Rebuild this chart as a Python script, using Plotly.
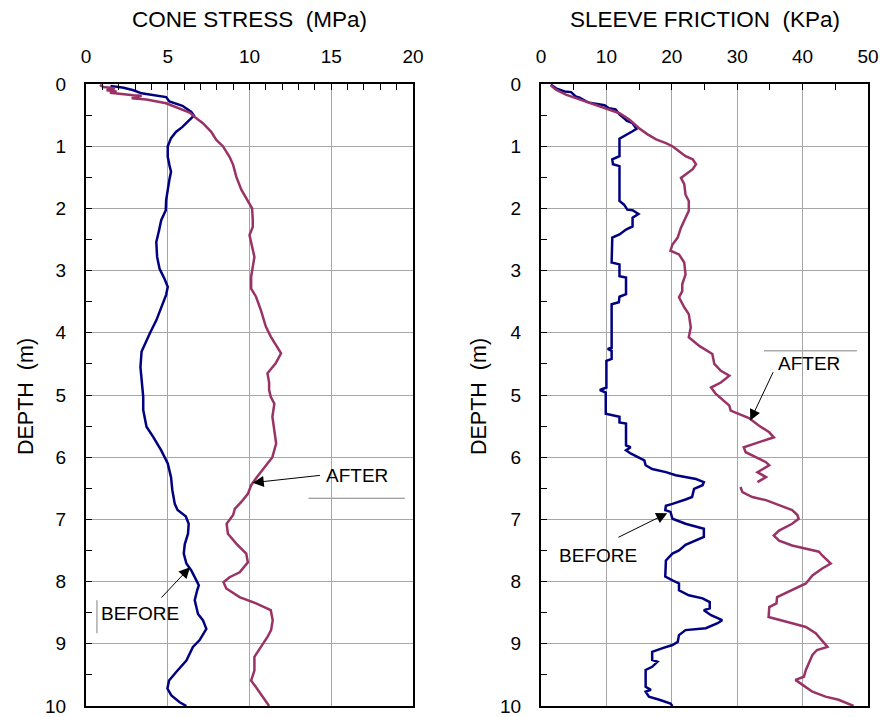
import plotly.graph_objects as go

# ---------------- data ----------------
cone_before_depth = [0.03, 0.06, 0.10, 0.15, 0.21, 0.28, 0.35, 0.45, 0.51, 0.59, 0.69, 0.77, 0.87, 1.0, 1.17,
                     1.3, 1.41, 1.54, 1.7, 1.87, 2.03, 2.19, 2.35, 2.54, 2.78, 2.97, 3.13, 3.26, 3.39, 3.58,
                     3.8, 4.01, 4.2, 4.3, 4.55, 4.76, 5.03, 5.24, 5.51, 5.67, 5.89, 6.1, 6.32, 6.53, 6.75,
                     6.85, 6.95, 7.07, 7.23, 7.4, 7.55, 7.71, 7.82, 7.98, 8.06, 8.14, 8.3, 8.52, 8.62, 8.76,
                     8.94, 9.05, 9.27, 9.45, 9.59, 9.72, 9.83, 9.94, 10.0]
cone_before = [1.5, 2.3, 2.9, 3.4, 4.9, 5.1, 5.9, 6.44, 6.6, 6.3, 5.9, 5.5, 5.2, 5.0, 5.0,
               5.1, 5.2, 5.1, 5.0, 4.9, 4.88, 4.6, 4.47, 4.3, 4.35, 4.5, 4.8, 5.0, 4.9, 4.6,
               4.3, 3.9, 3.6, 3.4, 3.33, 3.4, 3.5, 3.5, 3.7, 4.1, 4.6, 5.0, 5.2, 5.28, 5.43,
               5.6, 6.1, 6.28, 6.24, 6.04, 5.98, 6.14, 6.44, 6.75, 6.9, 6.8, 6.65, 6.85, 7.15, 7.36,
               6.95, 6.54, 6.14, 5.53, 5.08, 4.98, 5.22, 5.73, 6.14]

cone_after_depth = [0.016, 0.05, 0.07, 0.10, 0.12, 0.14, 0.18, 0.19, 0.23, 0.25, 0.31, 0.39, 0.46, 0.53, 0.63,
                    0.77, 0.9, 1.0, 1.17, 1.3, 1.49, 1.7, 1.87, 2.0, 2.19, 2.3, 2.43, 2.56, 2.78, 2.94,
                    3.1, 3.29, 3.42, 3.64, 3.9, 4.06, 4.23, 4.33, 4.49, 4.65, 4.8, 4.92, 5.03, 5.14, 5.35,
                    5.57, 5.78, 6.0, 6.13, 6.24, 6.34, 6.45, 6.59, 6.72, 6.83, 6.93, 7.07, 7.23, 7.39, 7.55,
                    7.69, 7.85, 7.93, 8.01, 8.11, 8.25, 8.35, 8.46, 8.62, 8.78, 8.89, 9.05, 9.21, 9.43, 9.59,
                    9.7, 9.86, 10.0]
cone_after = [0.85, 1.06, 1.77, 1.26, 1.87, 1.46, 2.9, 3.4, 2.8, 3.7, 4.9, 5.73, 6.34, 6.65, 7.15,
              7.66, 7.97, 8.37, 8.78, 9.0, 9.19, 9.5, 9.9, 10.16, 10.2, 10.2, 10.0, 10.1, 10.3, 10.2,
              10.1, 10.1, 10.4, 10.7, 11.0, 11.3, 11.7, 11.93, 11.6, 11.1, 11.2, 11.2, 11.3, 11.52, 11.4,
              11.5, 11.63, 11.4, 11.0, 10.7, 10.4, 10.1, 9.9, 9.5, 9.1, 9.0, 8.6, 8.68, 9.19, 9.8,
              9.9, 9.4, 8.78, 8.41, 8.58, 9.39, 10.4, 11.3, 11.42, 11.32, 11.1, 10.7, 10.3, 10.3, 10.1,
              10.4, 10.8, 11.2]

sleeve_before_depth = [0.01, 0.07, 0.12, 0.13, 0.2, 0.22, 0.28, 0.3, 0.34, 0.39, 0.41, 0.49, 0.55, 0.59, 0.63,
                       0.68, 0.72, 0.76, 0.81, 0.88, 1.16, 1.21, 1.29, 1.32, 1.88, 1.94, 2.02, 2.03, 2.09, 2.15,
                       2.29, 2.34, 2.42, 2.47, 2.87, 2.9, 3.09, 3.11, 3.38, 3.42, 3.51, 3.54, 4.24, 4.26, 4.29,
                       4.42, 4.45, 4.88, 4.92, 4.96, 5.3, 5.35, 5.44, 5.46, 5.81, 5.84, 5.89, 5.94, 6.05, 6.13,
                       6.19, 6.24, 6.29, 6.35, 6.40, 6.45, 6.51, 6.64, 6.68, 6.72, 6.75, 6.78, 6.85, 6.88, 6.99,
                       7.07, 7.15, 7.28, 7.36, 7.41, 7.5, 7.55, 7.66, 7.92, 7.98, 8.03, 8.14, 8.22, 8.27, 8.33,
                       8.43, 8.46, 8.54, 8.62, 8.67, 8.75, 8.78, 8.86, 8.97, 9.02, 9.07, 9.13, 9.26, 9.29, 9.37,
                       9.42, 9.69, 9.74, 9.77, 9.85, 9.9, 9.96, 10.0]
sleeve_before = [1.5, 2.3, 3.6, 4.6, 5.3, 5.9, 6.9, 7.4, 9.7, 10.4, 11.4, 12.0, 12.7, 13.1, 14.0,
                 14.3, 14.6, 14.0, 13.2, 12.0, 12.0, 10.9, 11.0, 12.0, 12.0, 12.7, 13.2, 14.0, 14.9, 14.0,
                 14.0, 13.0, 12.0, 10.9, 10.8, 12.0, 12.0, 13.0, 13.0, 12.0, 11.9, 10.8, 10.8, 10.2, 10.8,
                 10.8, 10.0, 10.0, 9.0, 9.9, 9.9, 12.0, 12.0, 13.0, 13.0, 13.7, 13.0, 13.7, 15.8, 16.0,
                 17.0, 19.1, 20.6, 23.7, 24.9, 24.7, 23.4, 23.1, 22.1, 21.1, 20.1, 19.1, 19.0, 19.8, 20.1,
                 22.1, 24.9, 24.9, 23.2, 22.1, 21.1, 20.1, 19.1, 19.0, 20.1, 21.1, 21.1, 22.6, 24.7, 25.8,
                 25.8, 24.9, 26.0, 27.7, 27.0, 25.2, 22.1, 21.1, 20.9, 20.1, 18.6, 17.0, 17.0, 17.8, 17.0,
                 16.0, 16.0, 16.8, 16.0, 16.5, 18.1, 19.8, 20.1]

sleeve_after_depth = [0.02, 0.09, 0.17, 0.25, 0.3, 0.39, 0.47, 0.57, 0.71, 0.81, 0.89, 0.95, 1.0, 1.08, 1.16,
                      1.21, 1.29, 1.37, 1.45, 1.51, 1.61, 1.78, 1.88, 2.04, 2.15, 2.31, 2.47, 2.58, 2.68, 2.74,
                      2.87, 3.06, 3.22, 3.33, 3.43, 3.59, 3.7, 3.91, 4.07, 4.21, 4.34, 4.5, 4.61, 4.69, 4.8,
                      4.88, 4.98, 5.08, 5.17, 5.25, 5.3, 5.37, 5.49, 5.6, 5.68, 5.76, 5.84, 5.92, 6.0, 6.08,
                      6.13, 6.19, 6.24, 6.32, 6.4, None, 6.48, 6.56, 6.64, 6.69, 6.77, 6.85, 6.93, 6.99, 7.07,
                      7.18, 7.26, 7.34, 7.42, 7.47, 7.52, 7.58, 7.71, 7.79, 7.9, 8.03, 8.11, 8.19, 8.25, 8.35,
                      8.41, 8.57, 8.62, 8.67, 8.73, 8.83, 9.05, 9.1, 9.18, 9.31, 9.42, 9.53, 9.58, 9.66, 9.77,
                      9.85, 9.9, 10.0]
sleeve_after = [1.5, 2.3, 3.8, 5.9, 7.4, 9.9, 12.0, 13.5, 15.0, 16.3, 17.6, 19.1, 20.1, 21.1, 22.1,
                23.2, 23.7, 23.2, 22.1, 21.4, 21.9, 22.1, 22.6, 22.6, 22.1, 21.4, 20.9, 20.1, 19.8, 21.1,
                21.9, 22.1, 21.6, 21.6, 21.1, 21.9, 22.6, 22.9, 22.6, 24.2, 26.2, 26.5, 27.5, 28.8, 27.5,
                26.0, 26.7, 27.8, 28.8, 29.0, 30.3, 31.8, 33.3, 34.9, 35.6, 33.3, 31.0, 31.3, 32.8, 34.4,
                34.9, 33.8, 33.1, 34.4, 33.1, None, 30.5, 30.8, 32.3, 34.4, 36.4, 38.4, 39.2, 39.4, 38.4,
                36.4, 35.6, 36.4, 38.4, 40.5, 42.5, 43.0, 44.3, 43.0, 41.5, 40.5, 38.9, 37.4, 36.1, 36.0,
                34.9, 34.8, 36.4, 38.4, 40.5, 42.0, 43.8, 42.2, 41.5, 41.0, 40.5, 40.2, 38.9, 40.0, 41.5,
                43.5, 45.5, 47.8]

cone_title = "CONE STRESS\u00a0 (MPa)"
sleeve_title = "SLEEVE FRICTION\u00a0 (KPa)"
depth_title = "DEPTH\u00a0 (m)"

BLUE = "#000080"
PLUM = "#993366"
GRID = "#a6a6a6"
FONT = "Liberation Sans, Arial, sans-serif"

fig = go.Figure()
fig.add_trace(go.Scatter(x=cone_before, y=cone_before_depth, mode="lines",
                         line=dict(color=BLUE, width=2.5), xaxis="x", yaxis="y"))
fig.add_trace(go.Scatter(x=cone_after, y=cone_after_depth, mode="lines",
                         line=dict(color=PLUM, width=2.5), xaxis="x", yaxis="y"))
fig.add_trace(go.Scatter(x=sleeve_before, y=sleeve_before_depth, mode="lines",
                         line=dict(color=BLUE, width=2.5), xaxis="x2", yaxis="y2"))
fig.add_trace(go.Scatter(x=sleeve_after, y=sleeve_after_depth, mode="lines", connectgaps=False,
                         line=dict(color=PLUM, width=2.5), xaxis="x2", yaxis="y2"))

W, H = 882, 717
def px(v):
    return v / W
def py(v):
    return 1 - v / H

common_x = dict(side="top", ticks="inside", ticklen=6, tickcolor="black", tickwidth=1,
                showgrid=True, gridcolor=GRID, gridwidth=1, showline=True, linecolor="black",
                linewidth=2, mirror=True, zeroline=False, tickfont=dict(size=19, color="black"),
                ticklabelstandoff=11, fixedrange=True)
common_y = dict(range=[10, 0], dtick=1, tick0=0, ticks="inside", ticklen=6, tickcolor="black", tickwidth=1,
                showgrid=True, gridcolor=GRID, gridwidth=1, showline=True, linecolor="black",
                linewidth=2, mirror=True, zeroline=False, tickfont=dict(size=19, color="black"),
                minor=dict(dtick=0.5, ticks="inside", ticklen=6, tickcolor="black", showgrid=False),
                ticklabelstandoff=14, fixedrange=True)

fig.update_layout(
    width=W, height=H,
    margin=dict(l=0, r=0, t=0, b=0, autoexpand=False),
    paper_bgcolor="white", plot_bgcolor="white",
    showlegend=False,
    font=dict(family=FONT, color="black"),
    xaxis=dict(domain=[px(86), px(413)], range=[0, 20], dtick=5, tick0=0, anchor="y",
               minor=dict(dtick=1, ticks="inside", ticklen=6, tickcolor="black", showgrid=False),
               **common_x),
    yaxis=dict(domain=[py(706), py(84)], anchor="x", **common_y),
    xaxis2=dict(domain=[px(541), px(868)], range=[0, 50], dtick=10, tick0=0, anchor="y2",
                minor=dict(dtick=5, ticks="inside", ticklen=6, tickcolor="black", showgrid=False),
                **common_x),
    yaxis2=dict(domain=[py(706), py(84)], anchor="x2", **common_y),
)

# white label boxes (cover the grid, below the data) and leftover box edges
boxes = [
    ("x", "y", 13.6, 6.02, 19.5, 6.66),
    ("x", "y", 0.67, 8.30, 6.0, 8.83),
    ("x2", "y2", 34.1, 4.29, 48.3, 4.77),
    ("x2", "y2", 2.1, 7.34, 15.1, 7.90),
]
for xr, yr, x0, y0, x1, y1 in boxes:
    fig.add_shape(type="rect", xref=xr, yref=yr, x0=x0, y0=y0, x1=x1, y1=y1,
                  fillcolor="white", line=dict(width=0), layer="below")
edges = [
    ("x", "y", 13.6, 6.66, 19.5, 6.66),
    ("x", "y", 0.67, 8.30, 0.67, 8.83),
    ("x2", "y2", 34.1, 4.29, 48.3, 4.29),
]
for xr, yr, x0, y0, x1, y1 in edges:
    fig.add_shape(type="line", xref=xr, yref=yr, x0=x0, y0=y0, x1=x1, y1=y1,
                  line=dict(color="#808080", width=1), layer="below")

ann = []
# panel titles
ann.append(dict(text=cone_title, x=px(249.5), y=py(20), xref="paper", yref="paper",
                showarrow=False, font=dict(size=22.5), xanchor="center", yanchor="middle"))
ann.append(dict(text=sleeve_title, x=px(704.5), y=py(20), xref="paper", yref="paper",
                showarrow=False, font=dict(size=22.5), xanchor="center", yanchor="middle"))
ann.append(dict(text=depth_title, x=px(26), y=py(397), xref="paper", yref="paper", textangle=-90,
                showarrow=False, font=dict(size=21.5), xanchor="center", yanchor="middle"))
ann.append(dict(text=depth_title, x=px(479), y=py(397), xref="paper", yref="paper", textangle=-90,
                showarrow=False, font=dict(size=21.5), xanchor="center", yanchor="middle"))

# labels
labels = [
    ("x", "y", 16.6, 6.30, "AFTER"),
    ("x", "y", 3.33, 8.52, "BEFORE"),
    ("x2", "y2", 41.0, 4.49, "AFTER"),
    ("x2", "y2", 8.7, 7.58, "BEFORE"),
]
for xr, yr, x, y, t in labels:
    ann.append(dict(text=t, x=x, y=y, xref=xr, yref=yr, showarrow=False,
                    font=dict(size=19), xanchor="center", yanchor="middle"))

# arrows: (tail x, tail y) -> (head x, head y)
arrows = [
    ("x", "y", 14.4, 6.29, 10.2, 6.41),
    ("x", "y", 4.53, 8.28, 6.36, 7.77),
    ("x2", "y2", 35.6, 4.61, 32.0, 5.41),
    ("x2", "y2", 11.6, 7.30, 19.3, 6.90),
]
for xr, yr, tx, ty, hx, hy in arrows:
    ann.append(dict(text="", x=hx, y=hy, xref=xr, yref=yr, ax=tx, ay=ty, axref=xr, ayref=yr,
                    showarrow=True, arrowhead=2, arrowsize=2.2, arrowwidth=1, arrowcolor="black",
                    standoff=0, startstandoff=0))

fig.update_layout(annotations=ann)

fig.write_html("out.html", config={"displayModeBar": False},
               post_script="document.body.style.margin='0';document.body.style.overflow='hidden';")
